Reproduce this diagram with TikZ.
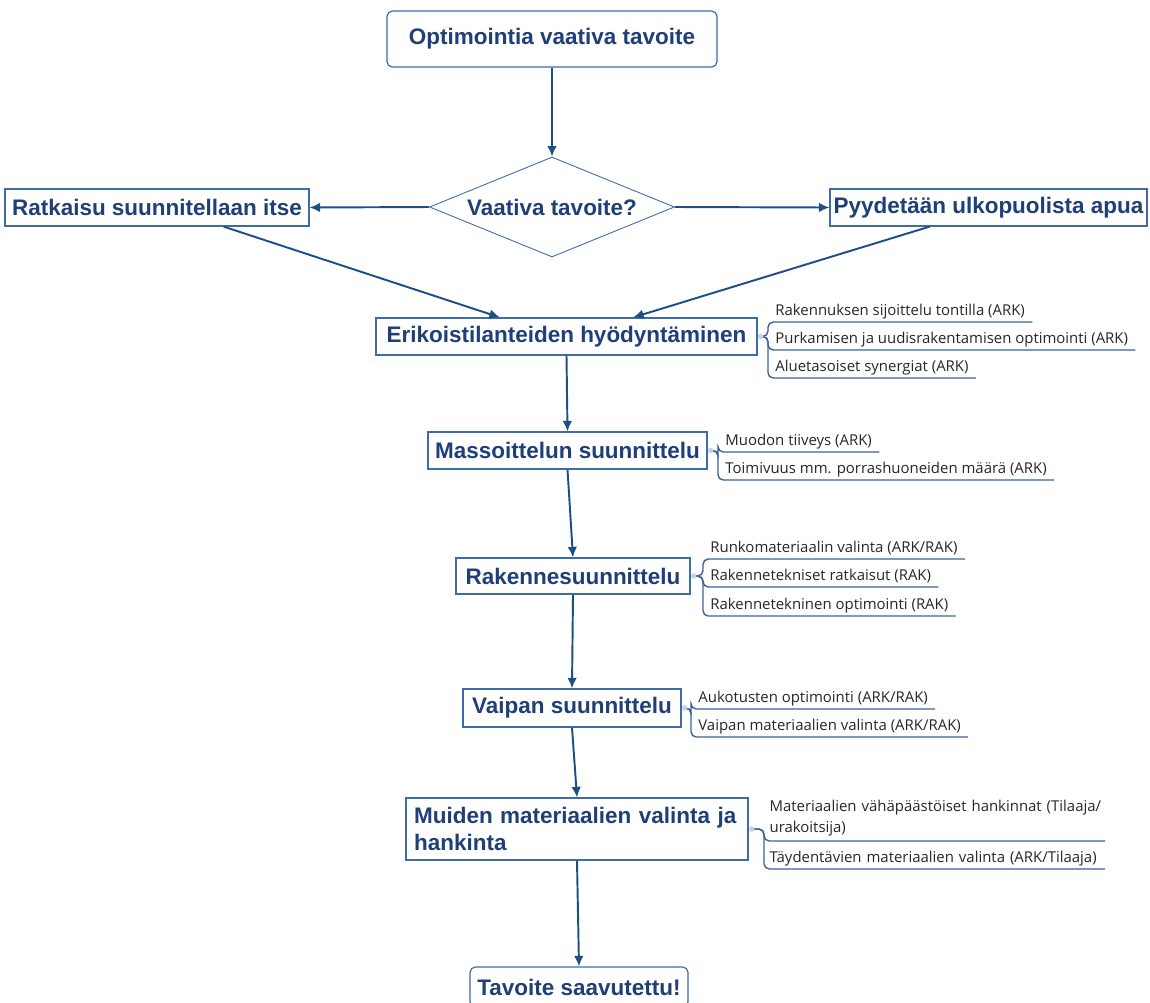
\documentclass[tikz,border=0pt]{standalone}
\usepackage{fontspec}
\setmainfont{Liberation Sans}
\newfontfamily\leaffont{Open Sans}
\usepackage{xcolor}
\usetikzlibrary{arrows.meta,shapes,positioning,calc}
\definecolor{navy}{HTML}{1F3F78}
\definecolor{boxline}{HTML}{3D6CA8}
\definecolor{arrowline}{HTML}{1F4E85}
\definecolor{leaftext}{HTML}{262626}
\definecolor{branchline}{HTML}{3E6199}
\definecolor{dotfill}{HTML}{C5D3E8}

\begin{document}
\begin{tikzpicture}[x=0.02cm, y=-0.02cm,
    stepbox/.style={draw=boxline, line width=0.7pt, fill=white, text=navy,
        font=\fontsize{12.8}{15.3}\selectfont\bfseries, inner sep=0pt, align=center},
    endbox/.style={stepbox, rounded corners=3pt},
    decision/.style={diamond, aspect=2.45, draw=boxline, line width=0.5pt, text=navy,
        font=\fontsize{12.8}{15.3}\selectfont\bfseries, inner sep=0pt,
        minimum width=4.9cm, minimum height=2cm},
    flow/.style={-{Latex[length=6pt,width=5.5pt]}, draw=arrowline, line width=1.1pt},
    leafbase/.style={anchor=south west, font=\leaffont\fontsize{8.5}{11.8}\selectfont, text=leaftext,
        inner xsep=4pt, inner ysep=1.5pt},
    leaf/.style={leafbase, text height=6.2pt, text depth=2pt},
    branch/.style={draw=branchline, line width=0.8pt, rounded corners=3pt}
]
\useasboundingbox (0,0) rectangle (1150,1002);
\clip (0,0) rectangle (1150,1002);

% Start and decision
\node[endbox, minimum width=6.6cm, minimum height=1.12cm] (goal) at (552,39) {Optimointia vaativa tavoite};
\node[decision] (ask) at (552,207) {Vaativa tavoite?};
\node[stepbox, minimum width=6.08cm, minimum height=0.74cm] (self) at (157,207.5) {Ratkaisu suunnitellaan itse};
\node[stepbox, minimum width=6.34cm, minimum height=0.74cm] (help) at (988.5,207.5) {Pyydetään ulkopuolista apua};

% Design steps
\node[stepbox, minimum width=7.62cm, minimum height=0.74cm] (spec) at (566.5,336.5) {Erikoistilanteiden hyödyntäminen};
\node[stepbox, minimum width=5.58cm, minimum height=0.74cm] (mass) at (567.5,450.5) {Massoittelun suunnittelu};
\node[stepbox, minimum width=4.68cm, minimum height=0.72cm] (frame) at (573,576) {Rakennesuunnittelu};
\node[stepbox, minimum width=4.36cm, minimum height=0.76cm] (shell) at (572,708) {Vaipan suunnittelu};
\node[stepbox, text width=6.52cm, inner xsep=0.16cm, minimum height=1.24cm, align=left] (other) at (577,829) {Muiden materiaalien valinta ja\\hankinta};
\node[endbox, minimum width=4.36cm, minimum height=0.8cm] (done) at (579,987) {Tavoite saavutettu!};

% Main flow
\draw[flow] (goal.south) -- (ask.north);
\draw[flow] (ask.west) -- (self.east);
\draw[flow] (ask.east) -- (help.west);
\draw[flow] (self.-16.4) -- (spec.164.9);
\draw[flow] (help.198.4) -- (spec.16.2);
\draw[flow] (spec.south) -- (mass.north);
\draw[flow] (mass.south) -- (frame.north);
\draw[flow] (frame.south) -- (shell.north);
\draw[flow] (shell.south) -- (other.north);
\draw[flow] (other.south) -- (done.north);

% Erikoistilanteet
\coordinate (specHub) at ([xshift=0.06cm]spec.east);
\node[leaf] (spec1) at (768,322) {Rakennuksen sijoittelu tontilla (ARK)};
\node[leaf] (spec2) at (768,350) {Purkamisen ja uudisrakentamisen optimointi (ARK)};
\node[leaf] (spec3) at (768,378) {Aluetasoiset synergiat (ARK)};
\foreach \leafnode in {spec1,spec2,spec3}
    \draw[branch] (specHub) -- (spec1.south west |- specHub) |- (\leafnode.south east);
\fill[dotfill] (specHub) circle (1.6pt);

% Massoittelu
\coordinate (massHub) at ([xshift=0.06cm]mass.east);
\node[leaf] (mass1) at (718,452) {Muodon tiiveys (ARK)};
\node[leaf] (mass2) at (718,480) {Toimivuus mm. porrashuoneiden määrä (ARK)};
\foreach \leafnode in {mass1,mass2}
    \draw[branch] (massHub) -- (mass1.south west |- massHub) |- (\leafnode.south east);
\fill[dotfill] (massHub) circle (1.6pt);

% Rakenne
\coordinate (frameHub) at ([xshift=0.06cm]frame.east);
\node[leaf] (frame1) at (703,559) {Runkomateriaalin valinta (ARK/RAK)};
\node[leaf] (frame2) at (703,587) {Rakennetekniset ratkaisut (RAK)};
\node[leaf] (frame3) at (703,616) {Rakennetekninen optimointi (RAK)};
\foreach \leafnode in {frame1,frame2,frame3}
    \draw[branch] (frameHub) -- (frame1.south west |- frameHub) |- (\leafnode.south east);
\fill[dotfill] (frameHub) circle (1.6pt);

% Vaippa
\coordinate (shellHub) at ([xshift=0.06cm]shell.east);
\node[leaf] (shell1) at (691,709) {Aukotusten optimointi (ARK/RAK)};
\node[leaf] (shell2) at (691,737) {Vaipan materiaalien valinta (ARK/RAK)};
\foreach \leafnode in {shell1,shell2}
    \draw[branch] (shellHub) -- (shell1.south west |- shellHub) |- (\leafnode.south east);
\fill[dotfill] (shellHub) circle (1.6pt);

% Muut materiaalit
\coordinate (otherHub) at ([xshift=0.06cm]other.east);
\node[leafbase, text width=6.6cm, inner xsep=3pt, align=left, inner ysep=2.5pt] (other1) at (764,841) {\mbox{Materiaalien vähäpäästöiset hankinnat (Tilaaja/}\\urakoitsija)};
\node[leaf, text width=6.6cm, inner xsep=3pt, align=left] (other2) at (764,869) {Täydentävien materiaalien valinta (ARK/Tilaaja)};
\foreach \leafnode in {other1,other2}
    \draw[branch] (otherHub) -- (other1.south west |- otherHub) |- (\leafnode.south east);
\fill[dotfill] (otherHub) circle (1.6pt);
\end{tikzpicture}
\end{document}
